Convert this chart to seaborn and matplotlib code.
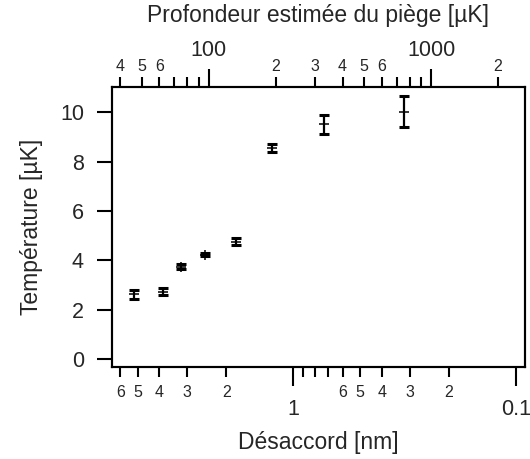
import numpy as np
import pandas as pd
import matplotlib
matplotlib.use('Agg')
import matplotlib.pyplot as plt
import matplotlib.ticker as ticker
import seaborn as sns

# data
detuning = [5.2, 3.87, 3.2, 2.49, 1.81, 1.24, 0.726, 0.318]   # nm
temperature = [2.63, 2.74, 3.74, 4.24, 4.76, 8.55, 9.51, 10.01]  # uK
temp_err = [0.18, 0.14, 0.10, 0.06, 0.15, 0.17, 0.38, 0.63]

depth_factor = 240.0  # trap depth [uK] = depth_factor / detuning [nm]
x_range = (6.55, 0.0908)
y_range = (-0.32, 11.0)

df = pd.DataFrame({'detuning': detuning, 'temperature': temperature, 'err': temp_err})

sns.set_theme(style='ticks')
plt.rcParams['font.family'] = ['Liberation Sans', 'DejaVu Sans']

fig = plt.figure(figsize=(5.3, 4.59), dpi=100)
ax = fig.add_axes([0.2108, 0.1998, 0.7798, 0.61])

ax.errorbar(df['detuning'], df['temperature'], yerr=df['err'], fmt='none',
            ecolor='black', elinewidth=1.6, capsize=3.8, capthick=2.2)
sns.scatterplot(data=df, x='detuning', y='temperature', marker='+', s=55,
                color='black', linewidth=1.1, ax=ax, zorder=3)

ax.set_xscale('log')
ax.set_xlim(*x_range)
ax.set_ylim(*y_range)


def minor_fmt(v, pos):
    m = v / 10 ** np.floor(np.log10(v) + 1e-9)
    m = int(round(m))
    return str(m) if 2 <= m <= 6 else ''


def major_fmt(v, pos):
    return '%g' % v


ax.xaxis.set_major_locator(ticker.LogLocator(base=10))
ax.xaxis.set_minor_locator(ticker.LogLocator(base=10, subs=np.arange(2, 10)))
ax.xaxis.set_major_formatter(ticker.FuncFormatter(major_fmt))
ax.xaxis.set_minor_formatter(ticker.FuncFormatter(minor_fmt))
ax.yaxis.set_major_locator(ticker.MultipleLocator(2))

ax.tick_params(axis='x', which='major', direction='out', length=14, width=1.5,
               labelsize=15.5, pad=9, color='black')
ax.tick_params(axis='x', which='minor', direction='out', length=7.5, width=1.5,
               labelsize=11.5, pad=5, color='black')
ax.tick_params(axis='y', which='major', direction='out', length=11, width=1.5,
               labelsize=15.5, pad=9, color='black', right=False)

ax.set_xlabel('Désaccord [nm]', fontsize=16.5, labelpad=8)
ax.set_ylabel('Température [µK]', fontsize=16.5, labelpad=12)

# top axis: estimated trap depth
ax2 = ax.twiny()
ax2.set_xscale('log')
ax2.set_xlim(depth_factor / x_range[0], depth_factor / x_range[1])
ax2.xaxis.set_major_locator(ticker.LogLocator(base=10))
ax2.xaxis.set_minor_locator(ticker.LogLocator(base=10, subs=np.arange(2, 10)))
ax2.xaxis.set_major_formatter(ticker.FuncFormatter(major_fmt))
ax2.xaxis.set_minor_formatter(ticker.FuncFormatter(minor_fmt))
ax2.tick_params(axis='x', which='major', direction='out', length=13, width=1.5,
                labelsize=15.5, pad=6, color='black')
ax2.tick_params(axis='x', which='minor', direction='out', length=7.5, width=1.5,
                labelsize=11.5, pad=2, color='black')
ax2.set_xlabel('Profondeur estimée du piège [µK]', fontsize=16.5, labelpad=13)

for a in [ax, ax2]:
    for sp in a.spines.values():
        sp.set_linewidth(1.5)
        sp.set_color('black')
        sp.set_visible(True)

fig.savefig('out.png', dpi=100)
